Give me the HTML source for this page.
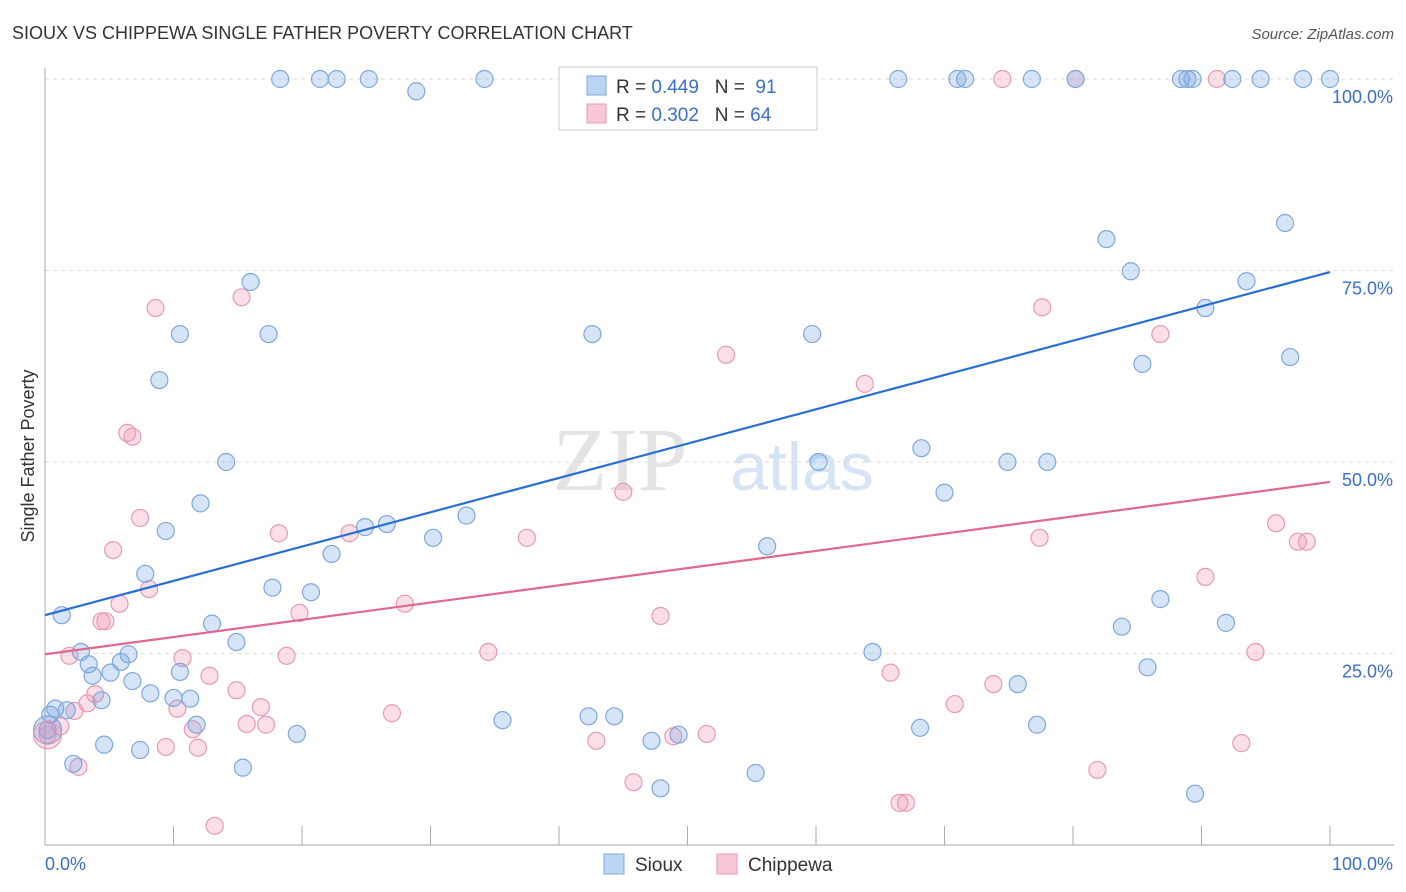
<!DOCTYPE html>
<html><head><meta charset="utf-8"><style>
body{margin:0;background:#fff;font-family:"Liberation Sans",sans-serif}
svg{display:block}
</style></head><body>
<svg id="chart" width="1406" height="892" xmlns="http://www.w3.org/2000/svg">
<text x="12" y="39" font-size="18" fill="#333">SIOUX VS CHIPPEWA SINGLE FATHER POVERTY CORRELATION CHART</text>
<text x="1394" y="39" font-size="15" fill="#555" font-style="italic" text-anchor="end">Source: ZipAtlas.com</text>
<text x="620" y="490" font-size="90" fill="#e4e4e4" font-family="Liberation Serif" text-anchor="middle">ZIP</text>
<text x="802" y="490" font-size="68" fill="#d6e4f5" text-anchor="middle">atlas</text>
<g id="grid"></g><g id="axes"></g><g id="pts"></g><g id="lines"></g>
<text transform="translate(34,456) rotate(-90)" font-size="18" fill="#333" text-anchor="middle">Single Father Poverty</text>
<g>
<rect x="559" y="67" width="258" height="63" fill="#fff" stroke="#ccc"/>
<rect x="587" y="76" width="19" height="19" fill="#bcd4f4" stroke="#7fa8dc"/>
<rect x="587" y="104" width="19" height="19" fill="#f8c8d8" stroke="#e89ab5"/>
<text x="616" y="93" font-size="19" fill="#333">R = <tspan fill="#3a6fd0">0.449</tspan>&#160;&#160;&#160;N = &#160;<tspan fill="#3a6fd0">91</tspan></text>
<text x="616" y="121" font-size="19" fill="#333">R = <tspan fill="#3a6fd0">0.302</tspan>&#160;&#160;&#160;N = <tspan fill="#3a6fd0">64</tspan></text>
</g>
<g>
<rect x="604" y="854" width="20" height="20" fill="#bcd4f4" stroke="#7fa8dc"/>
<text x="635" y="871" font-size="19" fill="#333">Sioux</text>
<rect x="717" y="854" width="20" height="20" fill="#f8c8d8" stroke="#e89ab5"/>
<text x="748" y="871" font-size="19" fill="#333">Chippewa</text>
</g>
</svg>
<script>
const siouxX=[18.3,21.4,22.7,25.2,28.9,34.2,46.5,51.9,66.4,71.0,71.6,76.8,80.2,88.4,88.9,89.3,92.4,94.6,97.9,100,82.6,84.5,96.5,93.5,90.3,96.9,85.4,16.0,10.5,17.4,42.6,59.7,8.9,14.1,68.2,60.2,74.9,78.0,70.0,12.1,32.8,26.6,24.9,9.4,30.2,22.3,56.2,7.8,17.7,20.7,1.3,13.0,86.8,83.8,91.9,14.9,2.8,6.5,64.4,3.4,5.9,85.8,3.7,5.1,10.5,6.8,75.7,8.2,10.0,11.3,4.4,0.8,1.7,35.6,42.3,44.3,11.8,68.1,77.2,19.6,49.3,47.2,4.6,7.4,2.2,15.4,55.3,47.9,89.5,0.4,0.2];
const siouxY=[100,100,100,100,98.4,100,100,100,100,100,100,100,100,100,100,100,100,100,100,100,79.1,74.9,81.2,73.6,70.1,63.7,62.8,73.5,66.7,66.7,66.7,66.7,60.7,50,51.8,50,50,50,46.0,44.6,43.0,41.9,41.5,41.0,40.1,38.0,39.0,35.4,33.6,33.0,30.0,28.9,32.1,28.5,29.0,26.5,25.2,24.9,25.2,23.6,23.9,23.2,22.1,22.5,22.6,21.4,21.0,19.8,19.2,19.1,18.9,17.8,17.6,16.3,16.8,16.8,15.7,15.3,15.7,14.5,14.4,13.6,13.1,12.4,10.6,10.1,9.4,7.4,6.7,17.0,15.0];
const chipX=[46.5,74.5,80.2,91.2,8.6,15.3,77.6,86.8,53.0,63.8,6.4,6.8,45.0,7.4,95.8,97.5,98.2,18.2,23.7,37.5,77.4,5.3,8.1,90.3,5.8,28.0,19.8,47.9,4.4,4.7,34.5,94.2,1.9,10.7,18.8,65.8,12.8,73.8,14.9,3.9,3.3,16.8,10.3,70.8,2.3,27.0,15.7,17.2,1.2,11.5,51.5,48.9,42.9,93.1,9.4,11.9,2.6,81.9,45.8,66.5,67.0,13.2,0.2];
const chipY=[100,100,100,100,70.1,71.5,70.2,66.7,64.0,60.2,53.8,53.3,46.1,42.7,42.0,39.6,39.6,40.7,40.7,40.1,40.1,38.5,33.4,35.0,31.5,31.5,30.3,29.9,29.2,29.2,25.2,25.2,24.7,24.4,24.7,22.5,22.1,21.0,20.2,19.7,18.5,18.0,17.8,18.4,17.5,17.2,15.8,15.7,15.5,15.1,14.5,14.2,13.6,13.3,12.8,12.7,10.2,9.8,8.2,5.5,5.5,2.5,14.4];
const bigPts=[[0.2,15.0,'s'],[0.2,14.4,'c']];
const siouxTrend=[30.0,74.8];
const chipTrend=[24.9,47.4];
const yTicks=[25,50,75,100];
const xTickCount=10;
const NS='http://www.w3.org/2000/svg';
const X=v=>45+v*12.85, Y=v=>845-v*7.66;
function mk(t,a,p){const e=document.createElementNS(NS,t);for(const k in a)e.setAttribute(k,a[k]);p.appendChild(e);return e;}
const grid=document.getElementById('grid'),axes=document.getElementById('axes'),pts=document.getElementById('pts'),lines=document.getElementById('lines');
yTicks.forEach(t=>{
 const l=mk('line',{x1:45,x2:1394,y1:Y(t),y2:Y(t),stroke:'#ddd','stroke-dasharray':'4,4'},grid);
 
 
 const tx=mk('text',{x:1393,y:Y(t)+24,'font-size':18,fill:'#3a6fd0','text-anchor':'end'},axes);
 tx.textContent=t.toFixed(1)+'%';
 
 
});
mk('line',{x1:45,x2:45,y1:68,y2:845,stroke:'#aaa'},axes);
mk('line',{x1:45,x2:1394,y1:845,y2:845,stroke:'#aaa'},axes);
for(let i=1;i<=xTickCount;i++){const x=X(i*10);const t=mk('line',{x1:x,x2:x,y1:826,y2:845,stroke:'#aaa'},axes);}
let t0=mk('text',{x:45,y:870,'font-size':18,fill:'#3a6fd0'},axes);t0.textContent='0.0%';


let t1=mk('text',{x:1393,y:870,'font-size':18,fill:'#3a6fd0','text-anchor':'end'},axes);t1.textContent='100.0%';


function dot(x,y,r,s){const c=mk('circle',{cx:X(x),cy:Y(y),r:r,fill:s?'rgba(120,165,230,0.3)':'rgba(240,150,180,0.3)',stroke:s?'#7fa8dc':'#e89ab5','stroke-width':1.2},pts);
 
 }
chipX.forEach((x,i)=>dot(x,chipY[i],8.5,false));
siouxX.forEach((x,i)=>dot(x,siouxY[i],8.5,true));
bigPts.forEach(p=>dot(p[0],p[1],14,p[2]=='s'));
const l1=mk('line',{x1:X(0),y1:Y(siouxTrend[0]),x2:X(100),y2:Y(siouxTrend[1]),stroke:'#2a6fd6','stroke-width':2.2},lines);


const l2=mk('line',{x1:X(0),y1:Y(chipTrend[0]),x2:X(100),y2:Y(chipTrend[1]),stroke:'#e06892','stroke-width':2.2},lines);


</script>
</body></html>
